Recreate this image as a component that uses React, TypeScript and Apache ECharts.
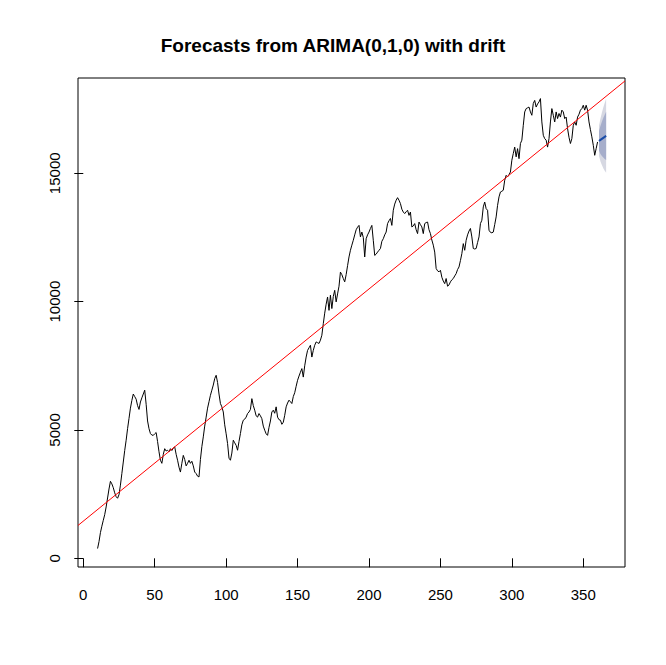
import { useEffect, useRef } from "react";
import * as echarts from "echarts";

// observed series starts at t = 10, one value per step
const obsStart = 10;
const observed = [
  380, 650, 1000, 1250, 1480, 1700, 2000, 2350, 2700, 3000,
  2900, 2750, 2550, 2400, 2340, 2480, 2850, 3300, 3750, 4200,
  4600, 5050, 5450, 5850, 6150, 6400, 6300, 6200, 5950, 5800,
  6090, 6250, 6400, 6550, 6000, 5350, 5050, 4860, 4800, 4790,
  4850, 4900, 4550, 4150, 3820, 3700, 4050, 4270, 4180, 4210,
  4150, 4270, 4200, 4300, 4340, 4050, 3820, 3550, 3360, 3700,
  4010, 3850, 3600, 3700, 3820, 3700, 3780, 3600, 3360, 3300,
  3200, 3170, 3850, 4350, 4730, 5150, 5500, 5850, 6100, 6350,
  6550, 6750, 7000, 7130, 6850, 6400, 6030, 5900, 5700, 5200,
  4850, 4470, 3900, 3820, 4100, 4600, 4500, 4400, 4210, 4550,
  4860, 5200, 5380, 5420, 5500, 5640, 5700, 5800, 6220, 5950,
  5770, 5550, 5500, 5640, 5550, 5440, 5150, 4990, 4850, 4790,
  5100, 5350, 5700, 5770, 5650, 5900, 5500, 5400, 5380, 5220,
  5300, 5570, 5900, 6050, 6160, 6100, 6030, 6300, 6450, 6700,
  6935, 7100, 7250, 7390, 7060, 7500, 7840, 8100, 8200, 8300,
  7840, 8100, 8300, 8430, 8400, 8370, 8500, 8690, 9140, 9550,
  9900, 10180, 9660, 10250, 9730, 10200, 10440, 9990, 10300, 10600,
  11150, 11050, 10900, 10770, 11050, 11400, 11740, 12000, 12200, 12390,
  12600, 12800, 12900, 12970, 12520, 12710, 12500, 11740, 12450, 12600,
  12710, 12850, 12970, 12390, 11800, 11850, 11930, 12000, 12070, 12350,
  12450, 12600, 12710, 13040, 13150, 13240, 12970, 13560, 13800, 13950,
  14050, 13950, 13820, 13600, 13490, 13430, 13500, 13560, 13360, 13490,
  12910, 12950, 13040, 12800, 12650, 13100, 13000, 12910, 12650, 13040,
  13080, 13100, 12800, 12650, 12400, 12200, 11930, 11290, 11200, 11160,
  11220, 10950, 10800, 10700, 10900, 10600, 10650, 10770, 10850, 10900,
  11000, 11090, 11250, 11350, 11600, 11870, 12260, 12000, 12390, 12600,
  12750, 12850, 12520, 12070, 12050, 12070, 12300, 12520, 13040, 13170,
  13690, 13880, 13620, 13560, 12780, 12700, 12680, 12710, 13000, 13300,
  13750, 14080, 14270, 14300, 14340, 14730, 14920, 14860, 14950, 15050,
  15510, 15770, 16020, 15640, 15960, 15570, 16160, 16290, 16870, 17390,
  17520, 17550, 17580, 17390, 17260, 17720, 17840, 17580, 17700, 17780,
  17910, 17000, 16480, 16350, 16290, 16020, 16350, 17000, 17520, 17260,
  17000, 17390, 17130, 17330, 17190, 17460, 17390, 17130, 17190, 16740,
  16400, 16160, 16350, 16870, 17000, 16870, 17190, 17300, 17460, 17520,
  17650, 17460, 17650, 17460, 17000, 16700, 16420, 16090, 15700, 15960,
  16220,
];

// forecast horizon
const forecastX = [361, 362, 363, 364, 365, 366];
const forecastMean = [16260, 16300, 16340, 16380, 16420, 16460];
const lo80 = [15875, 15755, 15670, 15610, 15560, 15520];
const hi80 = [16645, 16845, 17010, 17150, 17280, 17400];
const lo95 = [15670, 15470, 15320, 15200, 15100, 15020];
const hi95 = [16850, 17130, 17360, 17560, 17740, 17900];

// red reference line, read at the plot's left and right edges
const trendX = [-3.7, 379.2];
const trendY = [1280, 18598];

const xTicks = [0, 50, 100, 150, 200, 250, 300, 350];
const yTicks = [0, 5000, 10000, 15000];

const FONT = "'Liberation Sans', Arial, sans-serif";

function fanSeries(lo: number[], hi: number[], color: string) {
  return {
    type: "custom",
    silent: true,
    data: forecastX.map((x, i) => [x, lo[i], hi[i]]),
    encode: { x: 0, y: [1, 2] },
    renderItem: (params: any, api: any) => {
      if (params.dataIndex !== 0) return null;
      const top = forecastX.map((x, i) => api.coord([x, hi[i]]));
      const bottom = forecastX.map((x, i) => api.coord([x, lo[i]])).reverse();
      return {
        type: "polygon",
        shape: { points: [...top, ...bottom] },
        style: { fill: color, stroke: "none" },
      };
    },
  };
}

export default function App() {
  const ref = useRef<HTMLDivElement>(null);

  useEffect(() => {
    if (!ref.current) return;
    const chart = echarts.init(ref.current, null, { renderer: "svg" });

    const obsData = observed.map((v, i) => [obsStart + i, v]);

    const option: any = {
      animation: false,
      backgroundColor: "#fff",
      title: {
        text: "Forecasts from ARIMA(0,1,0) with drift",
        left: "center",
        top: 31,
        textStyle: {
          fontFamily: FONT,
          fontSize: 19,
          fontWeight: "bold",
          color: "#000",
          lineHeight: 19,
        },
      },
      grid: {
        left: 78,
        top: 78,
        width: 547,
        height: 489,
        show: true,
        borderColor: "#000",
        borderWidth: 1,
        backgroundColor: "transparent",
      },
      xAxis: {
        type: "value",
        min: -3.7,
        max: 379.2,
        axisLine: { show: false },
        splitLine: { show: false },
        axisTick: {
          show: true,
          length: 9,
          lineStyle: { color: "#000" },
          customValues: xTicks,
        },
        axisLabel: {
          customValues: xTicks,
          formatter: (v: number) => String(v),
          margin: 20,
          fontFamily: FONT,
          fontSize: 15,
          color: "#000",
        },
      },
      yAxis: {
        type: "value",
        min: -339,
        max: 18712,
        axisLine: { show: false },
        splitLine: { show: false },
        axisTick: {
          show: true,
          length: 9,
          lineStyle: { color: "#000" },
          customValues: yTicks,
        },
        axisLabel: {
          customValues: yTicks,
          formatter: (v: number) => String(v),
          rotate: 90,
          margin: 16,
          fontFamily: FONT,
          fontSize: 15,
          color: "#000",
        },
      },
      series: [
        {
          type: "line",
          data: obsData,
          symbol: "none",
          lineStyle: { color: "#000", width: 1 },
          z: 2,
        },
        { ...fanSeries(lo95, hi95, "#D6D8E2"), z: 3 },
        { ...fanSeries(lo80, hi80, "#A6AECB"), z: 4 },
        {
          type: "line",
          data: forecastX.map((x, i) => [x, forecastMean[i]]),
          symbol: "none",
          lineStyle: { color: "#1A4DA8", width: 2 },
          z: 5,
        },
        {
          type: "line",
          data: trendX.map((x, i) => [x, trendY[i]]),
          symbol: "none",
          lineStyle: { color: "#FF0000", width: 1 },
          z: 6,
        },
      ],
    };

    chart.setOption(option);
    return () => {
      chart.dispose();
    };
  }, []);

  return (
    <div
      ref={ref}
      style={{ position: "absolute", left: 0, top: 0, width: 666, height: 665 }}
    />
  );
}
